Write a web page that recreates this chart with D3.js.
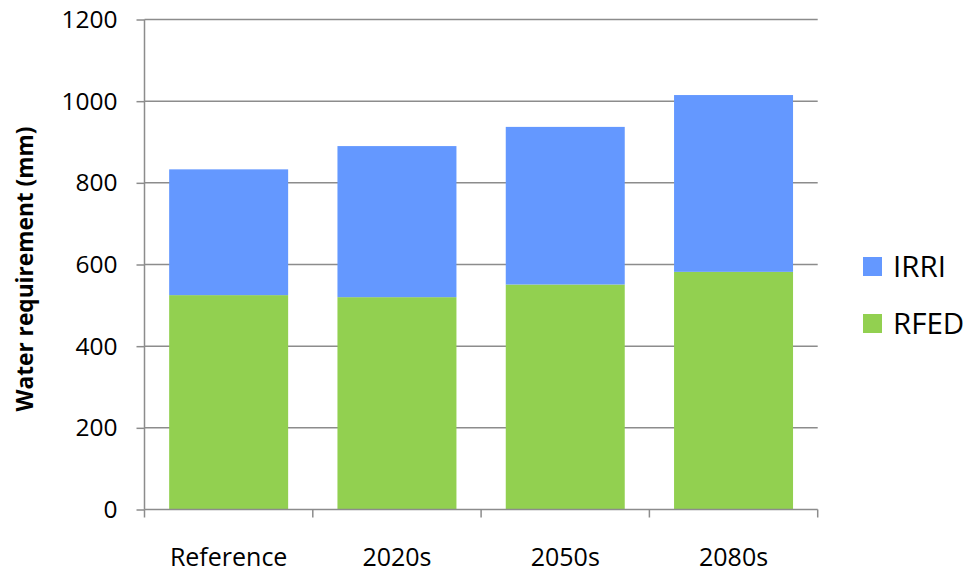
<!DOCTYPE html>
<html><head><meta charset="utf-8">
<script src="https://cdnjs.cloudflare.com/ajax/libs/d3/7.8.5/d3.min.js"></script>
<style>body{margin:0;background:#fff}svg{display:block}text{font-family:"Open Sans",sans-serif;fill:#000}</style>
</head><body><svg id="c" width="965" height="571"></svg>
<script>
const categories = ["Reference", "2020s", "2050s", "2080s"];
const rfed = [525, 520, 551, 582];
const irri = [308, 370, 386, 433];
const yTicks = [0, 200, 400, 600, 800, 1000, 1200];
const seriesNames = ["IRRI", "RFED"];
const colors = {IRRI: "#6498FF", RFED: "#92D050"};

const svg = d3.select("#c");
const x0 = 144.5, x1 = 817.7, yTop = 19.5, yBot = 509.5;
const x = d3.scaleBand().domain(categories).range([x0, x1]).paddingInner(0.293).paddingOuter(0.1465);
const y = d3.scaleLinear().domain([0, 1200]).range([yBot, yTop]);
const gridC = "#8c8c8c";

// gridlines
svg.append("g").selectAll("line").data(yTicks.filter(d => d > 0)).join("line")
  .attr("x1", x0).attr("x2", x1).attr("y1", d => y(d)).attr("y2", d => y(d))
  .attr("stroke", gridC).attr("stroke-width", 1.5);

const data = categories.map((c, i) => ({cat: c, RFED: rfed[i], IRRI: irri[i]}));
const stack = d3.stack().keys(["RFED", "IRRI"])(data);
svg.append("g").selectAll("g").data(stack).join("g").attr("fill", d => colors[d.key])
  .selectAll("rect").data(d => d).join("rect")
  .attr("x", d => x(d.data.cat)).attr("width", x.bandwidth())
  .attr("y", d => y(d[1])).attr("height", d => y(d[0]) - y(d[1]));

// y axis
const yAxis = d3.axisLeft(y).tickValues(yTicks).tickSize(8).tickPadding(19).tickFormat(d3.format("d"));
const gy = svg.append("g").attr("transform", `translate(${x0},0)`).call(yAxis);
gy.select(".domain").attr("stroke", gridC).attr("stroke-width", 1.5).attr("d", `M0,${yBot}V${yTop}`);
gy.selectAll(".tick line").attr("stroke", gridC).attr("stroke-width", 1.5);
gy.selectAll(".tick text").style("font-size", "24.5px").style("font-family", '"Open Sans",sans-serif').attr("fill", "#000");

// x axis
const xAxis = d3.axisBottom(x).tickSize(0).tickPadding(0);
const gx = svg.append("g").attr("transform", `translate(0,${yBot})`).call(xAxis);
gx.select(".domain").attr("stroke", gridC).attr("stroke-width", 1.5).attr("d", `M${x0},0H${x1}`);
gx.selectAll(".tick text").attr("y", 56).attr("dy", null)
  .style("font-size", "25px").style("font-family", '"Open Sans",sans-serif').attr("fill", "#000");
const xt = d3.range(categories.length + 1).map(i => x0 + i * (x1 - x0) / categories.length);
svg.append("g").selectAll("line").data(xt).join("line")
  .attr("x1", d => d).attr("x2", d => d).attr("y1", yBot).attr("y2", yBot + 8)
  .attr("stroke", gridC).attr("stroke-width", 1.5);

// y title
svg.append("text").attr("transform", "translate(33,269) rotate(-90)").attr("text-anchor", "middle")
  .style("font-size", "22.7px").style("font-weight", "bold").text("Water requirement (mm)");

// legend
const lg = svg.append("g").selectAll("g").data(seriesNames).join("g")
  .attr("transform", (d, i) => `translate(863,${257 + i * 57})`);
lg.append("rect").attr("width", 19).attr("height", 19).attr("fill", d => colors[d]);
lg.append("text").attr("x", 30).attr("y", 9.5).attr("dy", "0.36em").style("font-size", "29.5px").text(d => d);
</script></body></html>
